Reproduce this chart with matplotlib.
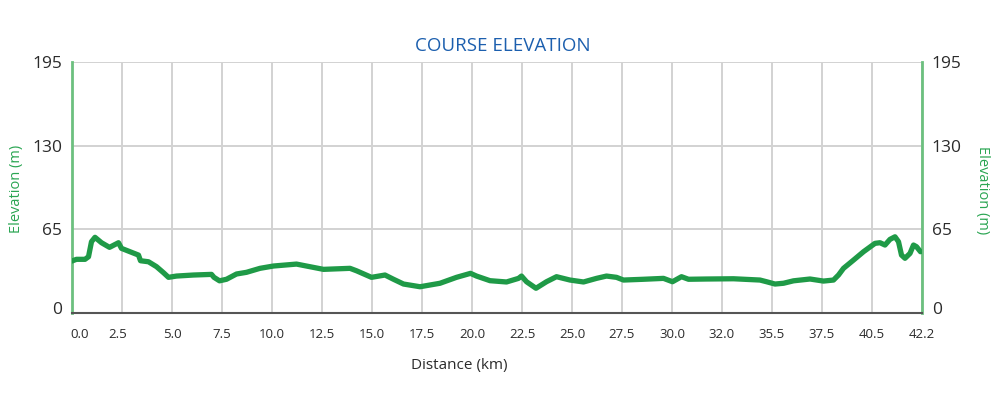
import matplotlib
matplotlib.use("Agg")
import matplotlib.pyplot as plt
from matplotlib.transforms import ScaledTranslation

plt.rcParams['font.family'] = ['Open Sans', 'DejaVu Sans']

# tick labels (evenly spaced categories along the distance axis)
km_labels = ["0.0", "2.5", "5.0", "7.5", "10.0", "12.5", "15.0", "17.5", "20.0",
             "22.5", "25.0", "27.5", "30.0", "32.0", "35.5", "37.5", "40.5", "42.2"]
y_ticks = [0, 65, 130, 195]

# elevation profile: position along the category axis (0..17) and elevation (m)
pos = [0.00, 0.09, 0.26, 0.33, 0.39, 0.46, 0.59, 0.75, 0.93, 0.99, 1.16, 1.33, 1.37,
       1.53, 1.69, 1.83, 1.93, 2.09, 2.43, 2.79, 2.84, 2.95, 3.09, 3.29, 3.49, 3.76,
       4.03, 4.49, 5.03, 5.56, 5.69, 5.99, 6.26, 6.43, 6.63, 6.96, 7.36, 7.69, 7.97,
       8.09, 8.36, 8.69, 8.93, 8.99, 9.09, 9.28, 9.49, 9.69, 9.96, 10.23, 10.49, 10.69,
       10.89, 11.03, 11.43, 11.83, 12.01, 12.19, 12.33, 12.69, 13.23, 13.76, 13.89,
       14.06, 14.23, 14.43, 14.76, 15.03, 15.23, 15.33, 15.43, 15.63, 15.83, 16.06,
       16.16, 16.26, 16.36, 16.46, 16.53, 16.59, 16.66, 16.76, 16.83, 16.89, 16.97]
elev = [40.4, 41.7, 41.7, 43.7, 55.4, 58.8, 54.6, 51.0, 54.6, 50.2, 47.6, 45.0, 40.6,
        39.8, 36.0, 31.3, 27.7, 28.7, 29.5, 30.0, 27.7, 25.0, 26.2, 30.3, 31.6, 34.7,
        36.5, 38.0, 33.9, 34.7, 32.8, 27.7, 29.5, 26.2, 22.5, 20.4, 23.1, 27.7, 30.8,
        28.7, 25.1, 24.1, 26.9, 28.7, 24.3, 19.2, 24.3, 28.2, 25.6, 24.1, 26.9, 28.7,
        27.7, 25.6, 26.2, 26.9, 24.3, 28.2, 26.2, 26.4, 26.6, 25.6, 24.3,
        22.5, 23.1, 25.0, 26.4, 24.8, 25.6, 29.5, 34.7, 41.1, 47.6, 54.1,
        54.6, 52.8, 57.2, 59.2, 55.4, 45.0, 42.5, 46.3, 52.8, 51.5, 47.6]

line_green = "#1f9a47"
axis_green = "#6cc07f"
text_green = "#2aa552"
grid_gray = "#d2d2d2"
text_dark = "#2b2b2b"

fig = plt.figure(figsize=(10, 4.16), dpi=100)
ax = fig.add_axes([0.072, 0.2476, 0.85, 0.6034])

ax.plot(pos, elev, color=line_green, lw=3.8, solid_capstyle='round',
        solid_joinstyle='round', zorder=3)

ax.set_xlim(0, len(km_labels) - 1)
ax.set_ylim(0, 195)
ax.set_xticks(range(len(km_labels)))
ax.set_xticklabels(km_labels)
ax.set_yticks(y_ticks)
ax.grid(True, color=grid_gray, lw=1.4, zorder=0)
ax.set_axisbelow(True)

ax.tick_params(axis='x', length=0, pad=11, labelsize=9.5, labelcolor=text_dark)
ax.tick_params(axis='y', length=0, pad=7, labelsize=12.5, labelcolor=text_dark,
               labelright=True, right=False)

ax.spines['top'].set_visible(False)
ax.spines['left'].set_color(axis_green)
ax.spines['left'].set_linewidth(2)
ax.spines['right'].set_color(axis_green)
ax.spines['right'].set_linewidth(2)
ax.spines['bottom'].set_color("#555555")
ax.spines['bottom'].set_linewidth(1.5)

# small label nudges
fig.canvas.draw()
xticks = ax.xaxis.get_major_ticks()
xticks[0].label1.set_transform(xticks[0].label1.get_transform()
                               + ScaledTranslation(8/100, 0, fig.dpi_scale_trans))
xticks[1].label1.set_transform(xticks[1].label1.get_transform()
                               + ScaledTranslation(-4/100, 0, fig.dpi_scale_trans))
ytick0 = ax.yaxis.get_major_ticks()[0]
for t in (ytick0.label1, ytick0.label2):
    t.set_transform(t.get_transform() + ScaledTranslation(0, 5/100, fig.dpi_scale_trans))

fig.text(0.503, 1 - 46/416, "COURSE ELEVATION", ha='center', va='center',
         fontsize=13.5, color="#1c5fae")
fig.text(0.459, 1 - 366/416, "Distance (km)", ha='center', va='center',
         fontsize=11, color=text_dark)
fig.text(0.017, 1 - 189/416, "Elevation (m)", ha='center', va='center',
         rotation=90, fontsize=10.5, color=text_green)
fig.text(0.982, 1 - 190/416, "Elevation (m)", ha='center', va='center',
         rotation=270, fontsize=10.5, color=text_green)

fig.savefig("out.png", dpi=100)
